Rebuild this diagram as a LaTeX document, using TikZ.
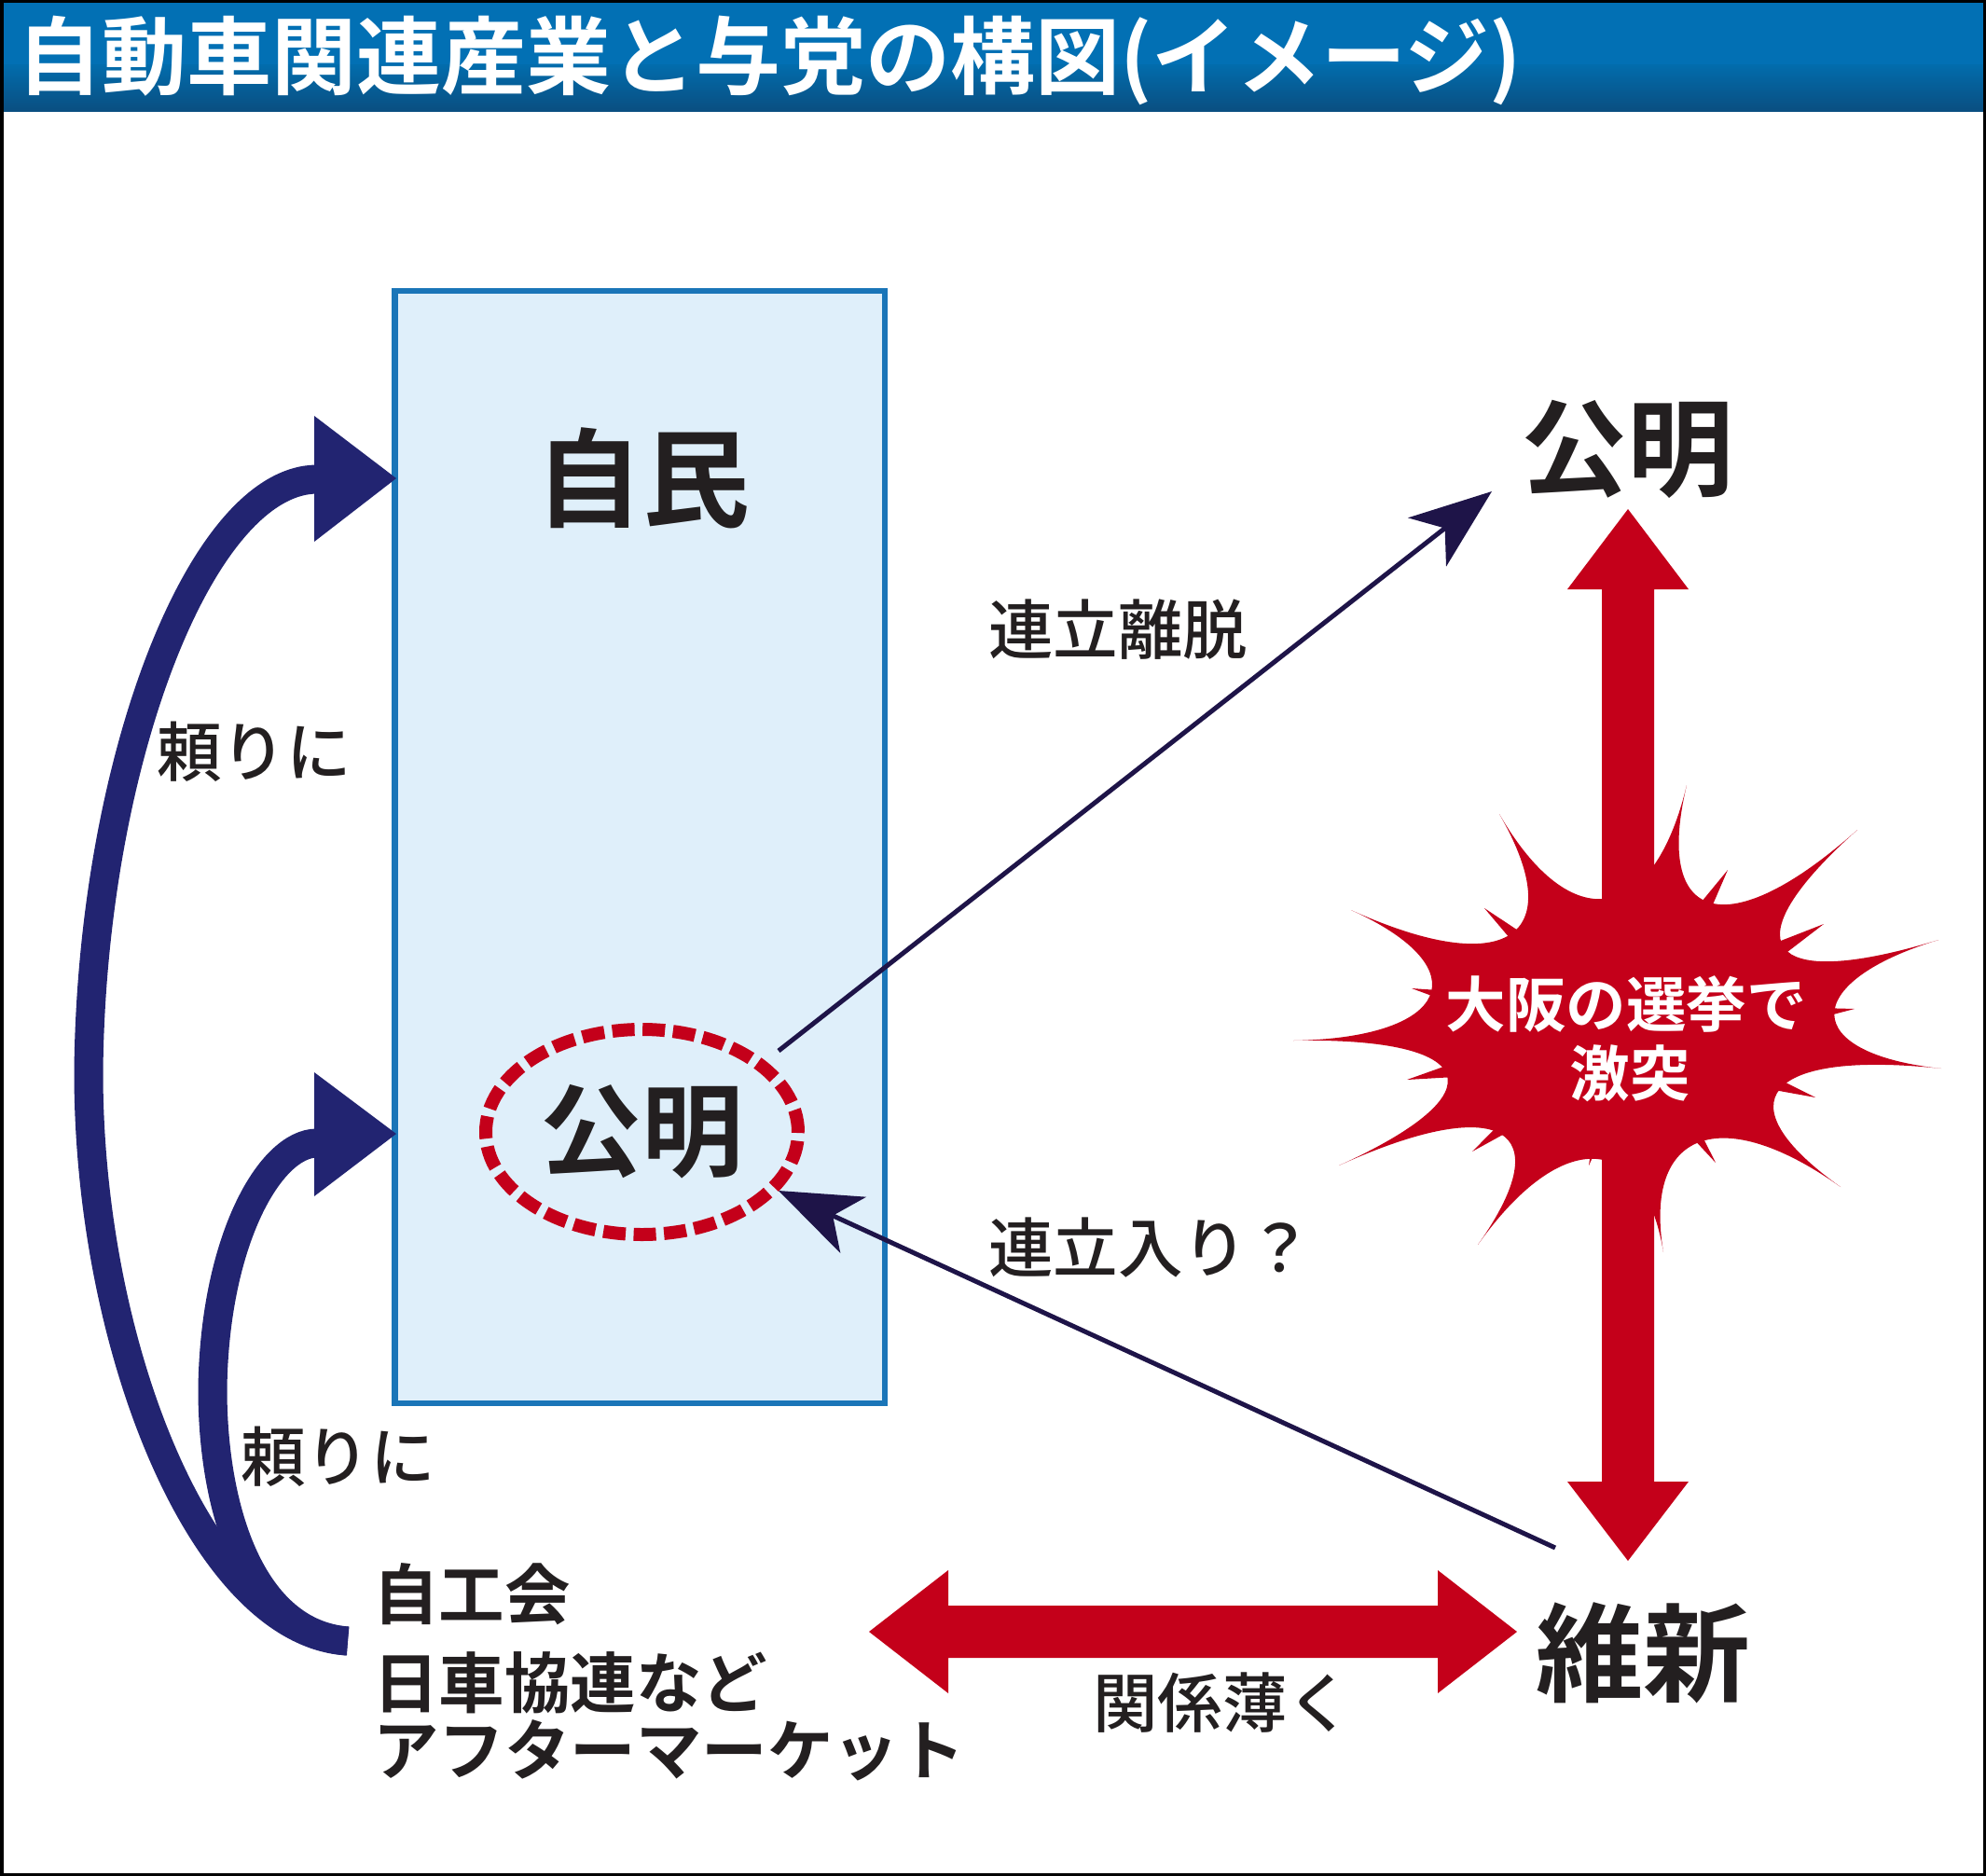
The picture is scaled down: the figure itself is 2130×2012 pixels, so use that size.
\documentclass[tikz,border=0pt]{standalone}
\usepackage{fontspec}
\usetikzlibrary{arrows.meta,calc,shapes.geometric}
\newfontfamily\jpr{Noto Sans CJK JP Medium}
\newfontfamily\jpb{Noto Sans CJK JP Bold}
\definecolor{navy}{RGB}{34,36,113}
\definecolor{darkpurple}{RGB}{30,20,72}
\definecolor{starred}{RGB}{196,0,26}
\definecolor{boxfill}{RGB}{223,239,250}
\definecolor{boxline}{RGB}{26,117,184}
\definecolor{hdtop}{RGB}{2,112,180}
\definecolor{hdmid}{RGB}{2,108,172}
\definecolor{hdbot}{RGB}{10,78,128}
\definecolor{ink}{RGB}{35,31,32}
\begin{document}
\begin{tikzpicture}[x=1pt,y=-1pt,
  every node/.style={inner sep=0pt, outer sep=0pt},
  lbl/.style={font=\jpr\fontsize{69.5}{80}\selectfont, text=ink, anchor=west},
  org/.style={font=\jpb\fontsize{70.5}{80}\selectfont, text=ink, anchor=west},
  party/.style={font=\jpb\fontsize{115}{120}\selectfont, text=ink},
  startxt/.style={font=\jpb\fontsize{64.5}{72}\selectfont, text=white},
  thinarrow/.style={draw=darkpurple, line width=5pt, -{Stealth[length=88pt, width=66pt, inset=24pt]}},
  relyarrow/.style={draw=navy, line width=31pt},
  thorn/.style={fill=starred},
]
\useasboundingbox (0,0) rectangle (2130,2012);
\fill[white] (0,0) rectangle (2130,2012);
% header
\fill[hdtop] (0,0) rectangle (2130,70);
\shade[top color=hdmid, bottom color=hdbot] (0,69.5) rectangle (2130,120);
\node[anchor=west, text=white, font=\jpb\fontsize{91}{96}\selectfont] (title) at (18,65) {自動車関連産業と与党の構図(イメージ)};

% LDP box
\node[draw=boxline, fill=boxfill, line width=6.5pt, minimum width=525.5pt, minimum height=1193pt] (ldpbox) at (686.25,908.5) {};
\node[party] (ldp) at (689,513) {自民};
\node[ellipse, draw=starred, line width=14pt, dash pattern=on 24pt off 8.6pt,
      minimum width=335pt, minimum height=220pt, font=\jpb\fontsize{109}{112}\selectfont, text=ink] (komeiin) at (688.5,1214) {公明};

% right parties
\node[party, font=\jpb\fontsize{114}{118}\selectfont] (komeiout) at (1745,482) {公明};
\node[party, font=\jpb\fontsize{115}{120}\selectfont] (ishin) at (1762,1773) {維新};

% starburst
\coordinate (O) at (1745,1110);
\coordinate (s1) at (1809,842);
\coordinate (s2) at (1992,890);
\coordinate (s3) at (2079,1008);
\coordinate (s4) at (2082,1146);
\coordinate (s5) at (1974,1273);
\coordinate (s6) at (1784,1343);
\coordinate (s7) at (1585,1335);
\coordinate (s8) at (1436,1250);
\coordinate (s9) at (1387,1116);
\coordinate (s10) at (1449,976);
\coordinate (s11) at (1608,873);
\fill[starred] (s1)
  foreach \a/\b/\k in {s1/s2/0.56, s2/s3/0.56, s3/s4/0.45, s4/s5/0.56, s5/s6/0.56, s6/s7/0.56,
                       s7/s8/0.56, s8/s9/0.56, s9/s10/0.47, s10/s11/0.56, s11/s1/0.56}
  { .. controls ($(\a)!\k!(O)$) and ($(\b)!\k!(O)$) .. (\b) } -- cycle;
% small thorns
\fill[thorn] (1592,974) -- (1637.7,1028) -- (1650.9,1013) -- cycle;
\fill[thorn] (1853,933) -- (1808,987.6) -- (1825,998) -- cycle;
\fill[thorn] (1956,991) -- (1890.1,1016.7) -- (1899.9,1034.1) -- cycle;
\fill[thorn] (1514,1060) -- (1580.4,1084.6) -- (1584.6,1065) -- cycle;
\fill[thorn] (1989,1082) -- (1918.4,1080.1) -- (1920.6,1099.9) -- cycle;
\fill[thorn] (1509,1158) -- (1579.6,1153.9) -- (1575.6,1134.3) -- cycle;
\fill[thorn] (1579,1235) -- (1640.9,1200.9) -- (1628.9,1184.9) -- cycle;
\fill[thorn] (1704,1250) -- (1733.3,1185.6) -- (1714.1,1180) -- cycle;
\fill[thorn] (1840,1247) -- (1808.3,1183.8) -- (1791.9,1195.2) -- cycle;
\fill[thorn] (1947,1177) -- (1883.8,1145.4) -- (1877.4,1164.4) -- cycle;

% red vertical double arrow
\fill[starred] (1746,546) -- (1811,632) -- (1774,632) -- (1774,1589) -- (1811,1589) -- (1746,1674)
  -- (1681,1589) -- (1718,1589) -- (1718,632) -- (1681,632) -- cycle;
% red horizontal double arrow
\fill[starred] (932,1750) -- (1017,1684) -- (1017,1722) -- (1542,1722) -- (1542,1684) -- (1627,1750)
  -- (1542,1816) -- (1542,1778) -- (1017,1778) -- (1017,1816) -- cycle;

\node[startxt] (osaka) at (1744,1077) {大阪の選挙で};
\node[startxt] (clash) at (1748,1151) {激突};

% thin arrows
\coordinate (a1s) at (835,1127);
\coordinate (a1e) at (1600,527);
\draw[thinarrow] (a1s) -- (a1e);
\coordinate (a2s) at (1668,1660);
\coordinate (a2e) at (835,1277);
\draw[thinarrow] (a2s) -- (a2e);

% navy curved arrows
\coordinate (tail) at (373,1760);
\draw[relyarrow] (tail) .. controls (220,1752) and (95,1450) .. (95,1150)
  .. controls (98,820) and (215,515) .. (340,514);
\fill[navy] (337,446) -- (425,513) -- (337,581) -- cycle;
\draw[relyarrow] (tail) .. controls (270,1752) and (228,1620) .. (228,1490)
  .. controls (230,1330) and (290,1226) .. (340,1226);
\fill[navy] (337,1150) -- (425,1216) -- (337,1283) -- cycle;

% labels
\node[lbl] (l1) at (1060,675) {連立離脱};
\node[lbl] (l2) at (1060,1338) {連立入り？};
\node[lbl] (l3) at (168,806) {頼りに};
\node[lbl] (l4) at (258,1562) {頼りに};
\node[lbl] (l5) at (1172,1826) {関係薄く};
\node[org] (o1) at (400,1710) {自工会};
\node[org] (o2) at (400,1805) {日車協連など};
\node[org] (o3) at (400,1877) {アフターマーケット};

% frame
\draw[line width=3.5pt, draw=black] (1.75,1.75) rectangle (2128.25,2010.25);
\end{tikzpicture}
\end{document}
